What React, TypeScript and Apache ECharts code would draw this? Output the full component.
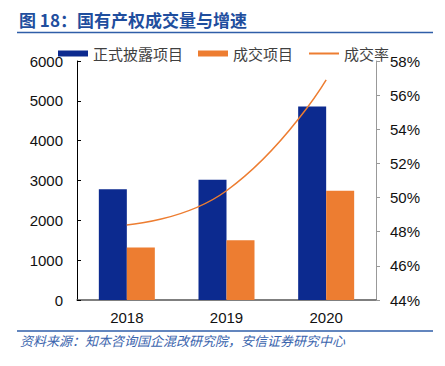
import React, { useEffect, useRef } from "react";
import * as echarts from "echarts";

const categories = ["2018", "2019", "2020"];
const disclosed = [2780, 3020, 4860];
const traded = [1320, 1500, 2745];
const tradeRate = [48.4, 50.4, 56.9];

const FONT = "'Liberation Sans', 'Noto Sans CJK SC', sans-serif";
const CJK = "'Noto Sans CJK SC', 'Liberation Sans', sans-serif";

export default function App() {
  const ref = useRef<HTMLDivElement>(null);
  useEffect(() => {
    if (!ref.current) return;
    const chart = echarts.init(ref.current, undefined, { renderer: "svg" });
    chart.setOption({
      animation: false,
      backgroundColor: "#ffffff",
      graphic: [
        {
          type: "text",
          left: 19,
          top: 11,
          style: {
            text: "图 18：国有产权成交量与增速",
            fontSize: 17,
            fontWeight: "bold",
            fill: "#1f4e9e",
            fontFamily: CJK,
          },
        },
        {
          type: "line",
          shape: { x1: 17, y1: 32.5, x2: 433, y2: 32.5 },
          style: { stroke: "#2f5ea8", lineWidth: 1.5 },
        },
        {
          type: "line",
          shape: { x1: 17, y1: 331, x2: 433, y2: 331 },
          style: { stroke: "#2f5ea8", lineWidth: 1.5 },
        },
        {
          type: "text",
          left: 20,
          top: 334,
          style: {
            text: "资料来源：知本咨询国企混改研究院，安信证券研究中心",
            fontSize: 13,
            fontStyle: "italic",
            fill: "#3a64ad",
            fontFamily: CJK,
          },
        },
      ],
      legend: {
        left: 53,
        top: 41,
        itemWidth: 30,
        itemHeight: 6,
        itemGap: 15,
        textStyle: { fontSize: 15, color: "#404040", fontFamily: CJK },
        data: [
          { name: "正式披露项目", icon: "rect" },
          { name: "成交项目", icon: "rect" },
          { name: "成交率", itemStyle: { opacity: 0 } },
        ],
      },
      grid: { left: 77, right: 69, top: 61, bottom: 66 },
      xAxis: {
        type: "category",
        data: categories,
        axisLine: { lineStyle: { color: "#555555", width: 1.5 } },
        axisTick: { inside: true, length: 4, lineStyle: { color: "#333333" } },
        axisLabel: { fontSize: 15, color: "#111111", fontFamily: FONT, margin: 10 },
      },
      yAxis: [
        {
          type: "value",
          min: 0,
          max: 6000,
          interval: 1000,
          splitLine: { show: false },
          axisLine: { show: true, lineStyle: { color: "#000000", width: 1 } },
          axisTick: { show: true, inside: true, length: 4, lineStyle: { color: "#000000" } },
          axisLabel: {
            fontSize: 15,
            color: "#111111",
            fontFamily: FONT,
            margin: 14,
            formatter: (v: number) => String(v),
          },
        },
        {
          type: "value",
          min: 44,
          max: 58,
          interval: 2,
          splitLine: { show: false },
          axisLine: { show: true, lineStyle: { color: "#999999", width: 1 } },
          axisTick: { show: true, inside: false, length: 4, lineStyle: { color: "#999999" } },
          axisLabel: {
            fontSize: 15,
            color: "#111111",
            fontFamily: FONT,
            margin: 14,
            formatter: "{value}%",
          },
        },
      ],
      series: [
        {
          name: "正式披露项目",
          type: "bar",
          data: disclosed,
          barWidth: 28,
          barGap: "0%",
          itemStyle: { color: "#0c2a8f" },
        },
        {
          name: "成交项目",
          type: "bar",
          data: traded,
          barWidth: 28,
          barGap: "0%",
          itemStyle: { color: "#ed7d31" },
        },
        {
          name: "成交率",
          type: "line",
          yAxisIndex: 1,
          data: tradeRate,
          smooth: true,
          symbol: "none",
          lineStyle: { color: "#ed7d31", width: 1.5 },
          itemStyle: { color: "#ed7d31" },
        },
      ],
    });
    return () => chart.dispose();
  }, []);
  return <div ref={ref} style={{ width: 445, height: 366, position: "absolute", left: 0, top: 0 }} />;
}
